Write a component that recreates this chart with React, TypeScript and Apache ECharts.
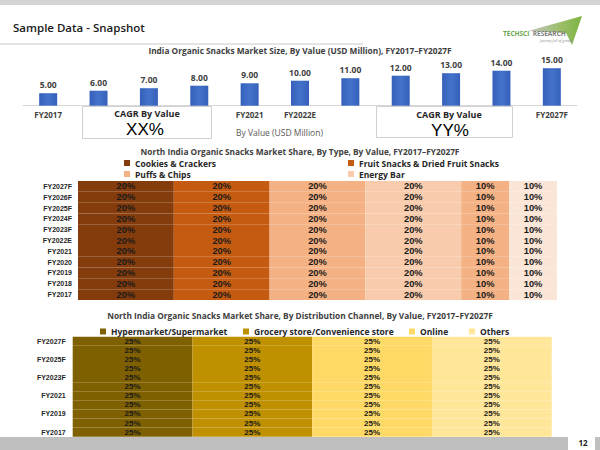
import React, { useEffect, useRef } from "react";
import * as echarts from "echarts";

const FONT = "'Open Sans', sans-serif";
const NARROW = "'Liberation Sans', Arial, sans-serif";

// ---- data ----
const years = ["FY2017", "FY2018", "FY2019", "FY2020", "FY2021", "FY2022E", "FY2023F", "FY2024F", "FY2025F", "FY2026F", "FY2027F"];
const marketSize = [5, 6, 7, 8, 9, 10, 11, 12, 13, 14, 15];
const shownYearLabels = ["FY2017", "FY2021", "FY2022E", "FY2027F"];

const typeNames = ["Cookies & Crackers", "Fruit Snacks & Dried Fruit Snacks", "Puffs & Chips", "Energy Bar", "Other Type 1", "Other Type 2"];
const cookiesShare = [20, 20, 20, 20, 20, 20, 20, 20, 20, 20, 20];
const fruitShare = [20, 20, 20, 20, 20, 20, 20, 20, 20, 20, 20];
const puffsShare = [20, 20, 20, 20, 20, 20, 20, 20, 20, 20, 20];
const energyShare = [20, 20, 20, 20, 20, 20, 20, 20, 20, 20, 20];
const otherType1Share = [10, 10, 10, 10, 10, 10, 10, 10, 10, 10, 10];
const otherType2Share = [10, 10, 10, 10, 10, 10, 10, 10, 10, 10, 10];
const typeColors = ["#843c0c", "#c55a11", "#f4b183", "#f8cbad", "#f4b183", "#fbe5d6"];

const channelNames = ["Hypermarket/Supermarket", "Grocery store/Convenience store", "Online", "Others"];
const hyperShare = [25, 25, 25, 25, 25, 25, 25, 25, 25, 25, 25];
const groceryShare = [25, 25, 25, 25, 25, 25, 25, 25, 25, 25, 25];
const onlineShare = [25, 25, 25, 25, 25, 25, 25, 25, 25, 25, 25];
const othersShare = [25, 25, 25, 25, 25, 25, 25, 25, 25, 25, 25];
const channelColors = ["#7f6000", "#bf9000", "#ffd966", "#ffe699"];

const cagrLabels = ["XX%", "YY%"];

export default function App() {
  const ref = useRef<HTMLDivElement>(null);

  useEffect(() => {
    if (!ref.current) return;
    const chart = echarts.init(ref.current, undefined, { renderer: "svg" });

    const typeData = [cookiesShare, fruitShare, puffsShare, energyShare, otherType1Share, otherType2Share];
    const channelData = [hyperShare, groceryShare, onlineShare, othersShare];

    const mkLegend = (name: string, left: number, top: number, fontSize: number) => ({
      data: [name],
      left,
      top,
      padding: 0,
      itemGap: 0,
      itemWidth: 6,
      itemHeight: 6,
      icon: "rect",
      selectedMode: false,
      textStyle: { fontSize, fontWeight: "bold", color: "#262626", fontFamily: FONT },
    });

    const titleStyle = { fontSize: 8.3, fontWeight: "bold", color: "#404040", fontFamily: FONT };

    const option: any = {
      animation: false,
      backgroundColor: "#ffffff",
      title: [
        { text: "India Organic Snacks Market Size, By Value (USD Million), FY2017–FY2027F", left: "center", top: 46.5, padding: 0, textStyle: titleStyle },
        { text: "North India Organic Snacks Market Share, By Type, By Value, FY2017–FY2027F", left: "center", top: 147, padding: 0, textStyle: titleStyle },
        { text: "North India Organic Snacks Market Share, By Distribution Channel, By Value, FY2017–FY2027F", left: "center", top: 311.5, padding: 0, textStyle: titleStyle },
      ],
      legend: [
        mkLegend(typeNames[0], 124, 158.5, 8.5),
        mkLegend(typeNames[1], 348, 158.5, 8.5),
        mkLegend(typeNames[2], 124, 169.5, 8.5),
        mkLegend(typeNames[3], 348, 169.5, 8.5),
        mkLegend(channelNames[0], 100, 327, 8.5),
        mkLegend(channelNames[1], 243, 327, 8.5),
        mkLegend(channelNames[2], 409, 327, 8.5),
        mkLegend(channelNames[3], 469, 327, 8.5),
      ],
      grid: [
        { left: 23, right: 23, top: 55.7, height: 50 },
        { left: 78, right: 43, top: 181, height: 119 },
        { left: 72.7, right: 48.3, top: 336.7, height: 100 },
      ],
      xAxis: [
        {
          type: "category",
          gridIndex: 0,
          data: years,
          axisLine: { lineStyle: { color: "#d9d9d9", width: 1 } },
          axisTick: { show: false },
          axisLabel: {
            interval: (i: number, v: string) => shownYearLabels.includes(v),
            fontSize: 8,
            fontWeight: "bold",
            color: "#404040",
            margin: 5,
            fontFamily: FONT,
          },
        },
        { type: "value", gridIndex: 1, min: 0, max: 100, show: false },
        { type: "value", gridIndex: 2, min: 0, max: 100, show: false },
      ],
      yAxis: [
        { type: "value", gridIndex: 0, min: 0, max: 20, show: false },
        {
          type: "category",
          gridIndex: 1,
          data: years,
          axisLine: { show: false },
          axisTick: { show: false },
          axisLabel: { interval: 0, fontSize: 7, fontWeight: "bold", color: "#262626", margin: 6, fontFamily: NARROW },
        },
        {
          type: "category",
          gridIndex: 2,
          data: years,
          axisLine: { show: false },
          axisTick: { show: false },
          axisLabel: { interval: 1, fontSize: 7, fontWeight: "bold", color: "#262626", margin: 7, fontFamily: NARROW },
        },
      ],
      series: [
        {
          name: "Market Size",
          type: "bar",
          xAxisIndex: 0,
          yAxisIndex: 0,
          data: marketSize,
          barWidth: 18,
          itemStyle: {
            color: new echarts.graphic.LinearGradient(0, 0, 1, 0, [
              { offset: 0, color: "#3560bb" },
              { offset: 0.5, color: "#4472c9" },
              { offset: 1, color: "#3560bb" },
            ]),
          },
          label: {
            show: true,
            position: "top",
            distance: 4,
            formatter: (p: any) => Number(p.value).toFixed(2),
            fontSize: 8.5,
            fontWeight: "bold",
            color: "#404040",
            fontFamily: FONT,
          },
        },
        ...typeNames.map((name, i) => ({
          name,
          type: "bar",
          stack: "type",
          xAxisIndex: 1,
          yAxisIndex: 1,
          data: typeData[i],
          barCategoryGap: "0%",
          itemStyle: { color: typeColors[i] },
          label: {
            show: true,
            position: "inside",
            formatter: "{c}%",
            fontSize: 9.3,
            fontWeight: "bold",
            color: "#1a1a1a",
            fontFamily: NARROW,
          },
        })),
        ...channelNames.map((name, i) => ({
          name,
          type: "bar",
          stack: "channel",
          xAxisIndex: 2,
          yAxisIndex: 2,
          data: channelData[i],
          barCategoryGap: "0%",
          itemStyle: { color: channelColors[i] },
          label: {
            show: true,
            position: "inside",
            formatter: "{c}%",
            fontSize: 8,
            fontWeight: "bold",
            color: "#1a1a1a",
            fontFamily: NARROW,
          },
        })),
      ],
      graphic: [
        { type: "rect", z: 100, shape: { x: 0, y: 0, width: 600, height: 5 }, style: { fill: "#d4d4d4" } },
        {
          type: "text",
          z: 100,
          style: { text: "Sample Data - Snapshot", x: 13, y: 27, textVerticalAlign: "middle", fill: "#1a1a1a", font: `600 11.5px ${FONT}` },
        },
        { type: "line", z: 100, shape: { x1: 0, y1: 44, x2: 363, y2: 44 }, style: { stroke: "#c8c8c8", lineWidth: 1 } },
        // logo
        {
          type: "polygon",
          z: 100,
          shape: { points: [[528, 31], [582, 16], [572, 45], [566, 33]] },
          style: {
            fill: new echarts.graphic.LinearGradient(0, 0, 1, 0, [
              { offset: 0, color: "#c4c4c4" },
              { offset: 0.6, color: "#9cbf6a" },
              { offset: 1, color: "#7cb342" },
            ]),
          },
        },
        {
          type: "text",
          z: 101,
          style: {
            text: "{g|TECHSCI} {k|RESEARCH}",
            x: 503,
            y: 33.5,
            textVerticalAlign: "middle",
            rich: {
              g: { fill: "#6aa84f", font: `bold 6.5px ${FONT}` },
              k: { fill: "#7f7f7f", font: `bold 6.5px ${FONT}` },
            },
          },
        },
        {
          type: "text",
          z: 101,
          style: { text: "Journey full of growth", x: 540, y: 40, textVerticalAlign: "middle", fill: "#8a8a8a", font: `italic 3.5px ${FONT}` },
        },
        // CAGR boxes
        { type: "rect", z: 100, shape: { x: 82.5, y: 106.5, width: 129, height: 32 }, style: { fill: "#ffffff", stroke: "#d0d0d0", lineWidth: 1 } },
        { type: "text", z: 101, style: { text: "CAGR By Value", x: 147, y: 113, textAlign: "center", textVerticalAlign: "middle", fill: "#262626", font: `bold 9px ${FONT}` } },
        { type: "text", z: 101, style: { text: cagrLabels[0], x: 145, y: 129, textAlign: "center", textVerticalAlign: "middle", fill: "#000000", font: `17px ${NARROW}` } },
        { type: "rect", z: 100, shape: { x: 376.5, y: 106.5, width: 136, height: 31 }, style: { fill: "#ffffff", stroke: "#d0d0d0", lineWidth: 1 } },
        { type: "text", z: 101, style: { text: "CAGR By Value", x: 449, y: 114.5, textAlign: "center", textVerticalAlign: "middle", fill: "#262626", font: `bold 9px ${FONT}` } },
        { type: "text", z: 101, style: { text: cagrLabels[1], x: 450, y: 130.2, textAlign: "center", textVerticalAlign: "middle", fill: "#000000", font: `17px ${NARROW}` } },
        { type: "text", z: 101, style: { text: "By Value (USD Million)", x: 236, y: 132, textVerticalAlign: "middle", fill: "#595959", font: `8.5px ${FONT}` } },
        // footer
        { type: "rect", z: 100, shape: { x: 0, y: 437, width: 568, height: 13 }, style: { fill: "#bfbfbf" } },
        { type: "rect", z: 100, shape: { x: 595, y: 437, width: 5, height: 13 }, style: { fill: "#bfbfbf" } },
        { type: "text", z: 101, style: { text: "12", x: 583, y: 442, textAlign: "center", textVerticalAlign: "middle", fill: "#1a1a1a", font: `bold 8px ${FONT}` } },
      ],
    };

    chart.setOption(option);
    return () => chart.dispose();
  }, []);

  return <div ref={ref} style={{ position: "fixed", left: 0, top: 0, width: 600, height: 450 }} />;
}
